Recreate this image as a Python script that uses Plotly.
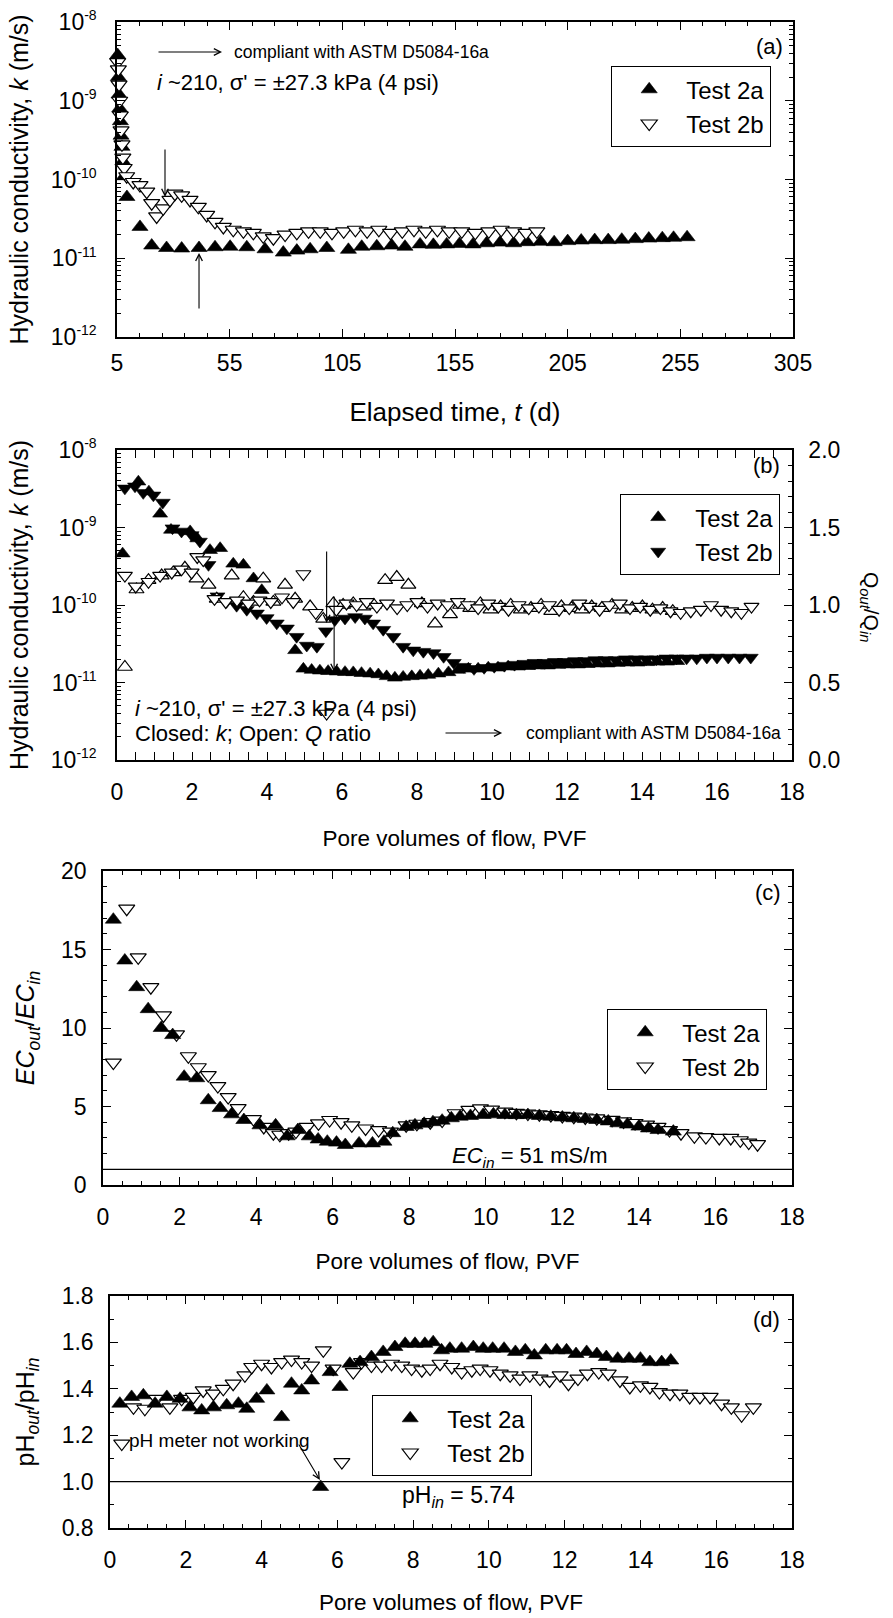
import math
import plotly.graph_objects as go

# ---------------- data ----------------
# (a) hydraulic conductivity vs elapsed time
a_t_2a = [5.3, 5.6, 5.9, 6.2, 6.5, 6.8, 7.2, 7.6, 8.2, 9.4,
          15.2, 20.4, 27.0, 33.7, 41.4, 48.5, 55.2, 62.6, 70.7, 78.8,
          84.8, 90.7, 98.1, 107.7, 113.6, 120.3, 126.9, 132.8, 139.5, 145.4,
          151.3, 157.0, 163.0, 169.0, 175.0, 181.0, 187.0, 193.0, 199.0, 205.0,
          211.0, 217.0, 223.0, 229.0, 235.0, 241.0, 247.0, 252.0, 258.0]
a_k_2a = [3.8e-9, 2.0e-9, 1.2e-9, 8.0e-10, 5.5e-10, 3.6e-10, 2.6e-10, 1.7e-10, 1.1e-10, 6.0e-11,
          2.5e-11, 1.45e-11, 1.35e-11, 1.33e-11, 1.35e-11, 1.38e-11, 1.4e-11, 1.38e-11, 1.3e-11, 1.18e-11,
          1.25e-11, 1.3e-11, 1.35e-11, 1.28e-11, 1.4e-11, 1.42e-11, 1.45e-11, 1.4e-11, 1.5e-11, 1.48e-11,
          1.5e-11, 1.52e-11, 1.5e-11, 1.55e-11, 1.58e-11, 1.55e-11, 1.6e-11, 1.62e-11, 1.6e-11, 1.65e-11,
          1.68e-11, 1.7e-11, 1.7e-11, 1.72e-11, 1.75e-11, 1.78e-11, 1.8e-11, 1.82e-11, 1.85e-11]
a_t_2b = [5.3, 5.6, 5.9, 6.2, 6.5, 6.8, 7.2, 7.6, 8.2, 9.3,
          12.2, 15.2, 18.2, 20.4, 22.6, 25.5, 28.5, 30.7, 33.7, 37.4,
          41.1, 44.8, 48.5, 52.2, 56.6, 61.1, 65.5, 69.9, 74.4, 79.6,
          84.8, 90.0, 95.2, 100.4, 105.6, 110.8, 116.0, 121.2, 126.4, 131.6,
          136.8, 142.0, 147.2, 152.4, 158.0, 164.0, 170.0, 175.5, 181.0, 186.5,
          191.3]
a_k_2b = [3.1e-9, 2.5e-9, 1.6e-9, 1.0e-9, 6.5e-10, 4.2e-10, 2.8e-10, 1.9e-10, 1.4e-10, 1.1e-10,
          9.3e-11, 8.5e-11, 7.0e-11, 5.0e-11, 3.4e-11, 4.3e-11, 5.5e-11, 6.6e-11, 6.3e-11, 5.5e-11,
          4.5e-11, 3.55e-11, 2.9e-11, 2.5e-11, 2.3e-11, 2.2e-11, 2.1e-11, 1.9e-11, 1.8e-11, 2.0e-11,
          2.1e-11, 2.2e-11, 2.2e-11, 2.1e-11, 2.2e-11, 2.3e-11, 2.2e-11, 2.3e-11, 2.1e-11, 2.2e-11,
          2.3e-11, 2.2e-11, 2.3e-11, 2.2e-11, 2.2e-11, 2.1e-11, 2.2e-11, 2.3e-11, 2.2e-11, 2.1e-11,
          2.2e-11]

# (b) k and Q ratio vs pore volumes of flow
b_pvf_k2a = [0.15, 0.57, 0.85, 1.15, 1.44, 1.95, 2.14, 2.48, 2.75, 3.1,
             3.37, 3.64, 3.86, 4.75, 4.97, 5.19, 5.41, 5.63, 5.86, 6.08,
             6.3, 6.52, 6.75, 6.97, 7.19, 7.41, 7.63, 7.86, 8.08, 8.3,
             8.57, 8.84, 9.1, 9.37, 9.63, 9.9, 10.16, 10.43, 10.69, 10.96,
             11.22, 11.49, 11.76, 12.02, 12.29, 12.55, 12.82, 13.08, 13.35, 13.61,
             13.88, 14.14, 14.41, 14.67, 14.94]
b_k2a = [4.6e-10, 3.9e-9, 2.9e-9, 1.5e-9, 9.3e-10, 8.9e-10, 7.2e-10, 5.1e-10, 5.4e-10, 3.4e-10,
         3.3e-10, 2.2e-10, 1.55e-10, 2.6e-11, 1.5e-11, 1.45e-11, 1.42e-11, 1.4e-11, 1.38e-11, 1.36e-11,
         1.35e-11, 1.32e-11, 1.3e-11, 1.27e-11, 1.2e-11, 1.15e-11, 1.18e-11, 1.2e-11, 1.22e-11, 1.25e-11,
         1.3e-11, 1.35e-11, 1.45e-11, 1.5e-11, 1.5e-11, 1.55e-11, 1.55e-11, 1.6e-11, 1.6e-11, 1.62e-11,
         1.65e-11, 1.65e-11, 1.68e-11, 1.7e-11, 1.7e-11, 1.72e-11, 1.75e-11, 1.75e-11, 1.78e-11, 1.8e-11,
         1.8e-11, 1.82e-11, 1.85e-11, 1.85e-11, 1.88e-11]
b_pvf_k2b = [0.21, 0.48, 0.70, 0.97, 1.22, 1.48, 1.72, 1.99, 2.21, 2.44,
             2.68, 2.92, 3.19, 3.46, 3.73, 3.99, 4.26, 4.53, 4.79, 5.06,
             5.33, 5.57, 5.81, 6.08, 6.35, 6.61, 6.83, 7.1, 7.37, 7.63,
             7.9, 8.17, 8.44, 8.71, 8.98, 9.25, 9.52, 9.79, 10.06, 10.33,
             10.6, 10.87, 11.14, 11.41, 11.68, 11.95, 12.22, 12.49, 12.76, 13.03,
             13.3, 13.57, 13.84, 14.11, 14.38, 14.65, 14.92, 15.19, 15.46, 15.73,
             16.0, 16.3, 16.6, 16.9]
b_k2b = [3.2e-9, 3.4e-9, 2.8e-9, 2.6e-9, 2.1e-9, 9.8e-10, 8.9e-10, 8.0e-10, 6.6e-10, 3.3e-10,
         1.3e-10, 1.1e-10, 9.8e-11, 8.7e-11, 7.8e-11, 6.8e-11, 5.8e-11, 5.0e-11, 3.9e-11, 3.0e-11,
         2.9e-11, 4.6e-11, 6.4e-11, 6.7e-11, 7.0e-11, 6.7e-11, 5.8e-11, 4.8e-11, 3.9e-11, 2.9e-11,
         2.6e-11, 2.5e-11, 2.4e-11, 2.15e-11, 1.8e-11, 1.6e-11, 1.5e-11, 1.55e-11, 1.6e-11, 1.65e-11,
         1.7e-11, 1.75e-11, 1.8e-11, 1.8e-11, 1.85e-11, 1.85e-11, 1.9e-11, 1.9e-11, 1.95e-11, 1.95e-11,
         1.95e-11, 2.0e-11, 2.0e-11, 2.0e-11, 2.0e-11, 2.05e-11, 2.05e-11, 2.05e-11, 2.05e-11, 2.1e-11,
         2.1e-11, 2.1e-11, 2.1e-11, 2.1e-11]
b_pvf_q2a = [0.21, 0.52, 0.84, 1.19, 1.5, 1.81, 2.12, 2.44, 2.66, 3.06,
             3.37, 3.64, 3.9, 4.17, 4.48, 4.75, 5.15, 5.5, 5.77, 6.03,
             6.3, 6.57, 6.85, 7.15, 7.46, 7.77, 8.13, 8.48, 8.88, 9.15,
             9.42, 9.69, 9.96, 10.23, 10.5, 10.77, 11.04, 11.31, 11.58, 11.85,
             12.12, 12.39, 12.66, 12.93, 13.2, 13.47, 13.74, 14.01, 14.28, 14.55,
             14.82]
b_q2a = [0.60, 1.10, 1.16, 1.19, 1.21, 1.24, 1.17, 1.13, 1.04, 1.19,
         1.05, 1.02, 1.17, 1.02, 1.13, 1.04, 0.99, 0.91, 1.01, 1.00,
         1.01, 0.99, 1.00, 1.16, 1.18, 1.13, 1.01, 0.88, 0.94, 1.0,
         0.98, 1.01, 0.97, 0.99, 1.0, 0.97, 0.98, 1.0, 0.96, 0.99,
         0.98, 0.97, 0.99, 0.98, 1.0, 0.97, 0.98, 0.99, 0.97, 0.98,
         0.96]
b_pvf_q2b = [0.21, 0.5, 0.84, 1.15, 1.46, 1.72, 1.99, 2.14, 2.3, 2.6,
             2.9, 3.2, 3.5, 3.8, 4.1, 4.4, 4.7, 4.97, 5.3, 5.59,
             5.85, 6.12, 6.39, 6.66, 6.93, 7.2, 7.47, 7.74, 8.01, 8.28,
             8.55, 8.82, 9.09, 9.36, 9.63, 9.9, 10.17, 10.44, 10.71, 10.98,
             11.25, 11.52, 11.79, 12.06, 12.33, 12.6, 12.87, 13.14, 13.41, 13.68,
             13.95, 14.22, 14.49, 14.76, 15.03, 15.3, 15.57, 15.84, 16.11, 16.38,
             16.65, 16.92]
b_q2b = [1.19, 1.12, 1.15, 1.19, 1.21, 1.23, 1.21, 1.31, 1.29, 1.04,
         1.02, 1.03, 1.01, 1.03, 1.02, 1.05, 1.02, 1.20, 0.95, 0.30,
         0.97, 1.01, 1.00, 1.02, 0.99, 1.01, 0.98, 1.00, 1.02, 0.99,
         1.01, 1.00, 1.02, 1.0, 0.98, 1.01, 0.99, 0.97, 1.0, 0.98,
         0.99, 1.0, 0.97, 0.98, 1.01, 0.99, 0.97, 1.0, 1.01, 0.98,
         0.99, 0.97, 0.98, 0.96, 0.95, 0.96, 0.97, 1.0, 0.97, 0.96,
         0.95, 0.99]

# (c) EC ratio vs pore volumes of flow
c_pvf_2a = [0.27, 0.57, 0.88, 1.18, 1.52, 1.82, 2.12, 2.45, 2.75, 3.06,
            3.36, 3.68, 4.1, 4.51, 4.81, 5.09, 5.39, 5.62, 5.86, 6.1,
            6.33, 6.69, 7.04, 7.34, 7.57, 7.92, 8.15, 8.39, 8.62, 8.86,
            9.1, 9.33, 9.6, 9.93, 10.2, 10.5, 10.8, 11.1, 11.4, 11.7,
            12.0, 12.3, 12.6, 12.9, 13.2, 13.45, 13.7, 14.0, 14.25, 14.5,
            14.9]
c_ec_2a = [16.9, 14.3, 12.6, 11.2, 10.0, 9.55, 6.9, 6.8, 5.4, 4.9,
           4.5, 4.14, 3.8, 3.8, 3.1, 3.5, 3.1, 2.9, 2.76, 2.7,
           2.55, 2.65, 2.65, 2.76, 3.3, 3.7, 3.8, 3.9, 4.0, 4.1,
           4.25, 4.35, 4.4, 4.46, 4.5, 4.46, 4.45, 4.46, 4.4, 4.35,
           4.3, 4.25, 4.2, 4.14, 4.05, 3.93, 3.85, 3.72, 3.6, 3.5,
           3.4]
c_pvf_2b = [0.27, 0.62, 0.92, 1.25, 1.58, 1.92, 2.23, 2.49, 2.75, 3.0,
            3.27, 3.53, 3.93, 4.2, 4.45, 4.62, 4.85, 5.04, 5.33, 5.63,
            5.92, 6.22, 6.5, 6.86, 7.2, 7.51, 7.92, 8.2, 8.55, 8.86,
            9.2, 9.56, 9.86, 10.15, 10.5, 10.8, 11.1, 11.4, 11.7, 12.0,
            12.3, 12.6, 12.9, 13.3, 13.6, 13.9, 14.2, 14.5, 14.8, 15.1,
            15.45, 15.75, 16.1, 16.4, 16.65, 16.87, 17.1]
c_ec_2b = [7.8, 17.6, 14.5, 12.6, 10.8, 9.6, 8.2, 7.5, 7.0, 6.3,
           5.6, 4.9, 4.2, 3.7, 3.3, 3.2, 3.3, 3.4, 3.7, 3.93,
           4.14, 4.0, 3.8, 3.6, 3.5, 3.4, 3.8, 3.9, 4.0, 4.1,
           4.57, 4.78, 4.88, 4.8, 4.67, 4.6, 4.55, 4.5, 4.45, 4.4,
           4.35, 4.3, 4.25, 4.15, 4.05, 3.95, 3.85, 3.7, 3.5, 3.3,
           3.1, 3.05, 3.0, 3.0, 2.85, 2.7, 2.6]
ec_in_ratio = 1.0

# (d) pH ratio vs pore volumes of flow
d_pvf_2a = [0.26, 0.57, 0.88, 1.19, 1.5, 1.85, 2.11, 2.42, 2.73, 3.08,
            3.39, 3.61, 3.87, 4.14, 4.53, 4.79, 5.06, 5.32, 5.56, 5.81,
            6.07, 6.33, 6.6, 6.9, 7.21, 7.52, 7.79, 8.05, 8.31, 8.53,
            8.75, 8.97, 9.28, 9.59, 9.85, 10.1, 10.4, 10.7, 10.96, 11.2,
            11.5, 11.8, 12.05, 12.3, 12.58, 12.85, 13.1, 13.4, 13.7, 14.0,
            14.25, 14.56, 14.8]
d_ph_2a = [1.336, 1.365, 1.372, 1.336, 1.365, 1.357, 1.32, 1.307, 1.32, 1.329,
           1.336, 1.314, 1.357, 1.393, 1.278, 1.422, 1.393, 1.436, 0.977, 1.472,
           1.408, 1.508, 1.515, 1.537, 1.559, 1.58, 1.594, 1.594, 1.594, 1.601,
           1.566, 1.573, 1.573, 1.58, 1.573, 1.573, 1.573, 1.559, 1.566, 1.544,
           1.566, 1.566, 1.566, 1.55, 1.559, 1.55, 1.537, 1.53, 1.53, 1.53,
           1.515, 1.515, 1.522]
d_pvf_2b = [0.31, 0.62, 0.92, 1.23, 1.58, 1.89, 2.2, 2.46, 2.73, 2.99,
            3.25, 3.56, 3.74, 4.0, 4.26, 4.53, 4.79, 5.06, 5.32, 5.63,
            5.89, 6.12, 6.42, 6.64, 6.9, 7.17, 7.43, 7.7, 7.96, 8.23,
            8.45, 8.71, 9.02, 9.28, 9.55, 9.77, 10.03, 10.3, 10.56, 10.82,
            11.08, 11.35, 11.6, 11.88, 12.1, 12.35, 12.6, 12.9, 13.15, 13.46,
            13.72, 14.0, 14.25, 14.5, 14.78, 15.04, 15.3, 15.57, 15.84, 16.14,
            16.4, 16.67, 16.98]
d_ph_2b = [1.164, 1.32, 1.314, 1.357, 1.32, 1.357, 1.365, 1.393, 1.379, 1.40,
           1.422, 1.458, 1.494, 1.508, 1.494, 1.515, 1.526, 1.515, 1.5, 1.566,
           1.487, 1.084, 1.472, 1.515, 1.5, 1.5, 1.508, 1.5, 1.487, 1.48,
           1.487, 1.508, 1.494, 1.472, 1.48, 1.487, 1.48, 1.465, 1.458, 1.444,
           1.458, 1.444, 1.436, 1.458, 1.422, 1.444, 1.465, 1.472, 1.465, 1.436,
           1.408, 1.415, 1.408, 1.386, 1.379, 1.379, 1.365, 1.365, 1.365, 1.336,
           1.32, 1.286, 1.32]
ph_in_ratio = 1.0

# tick labels
k_tick_vals = [1e-12, 1e-11, 1e-10, 1e-9, 1e-8]
k_tick_exp = ["-12", "-11", "-10", "-9", "-8"]
k_tick_text = ["10<sup><span style='font-size:14px'>%s</span></sup>" % e for e in k_tick_exp]
t_tick_vals = [5, 55, 105, 155, 205, 255, 305]

# ---------------- layout helpers ----------------
W, H = 893, 1618
FONT = "Liberation Sans, Arial, sans-serif"
TICK = 23


def dom_x(l, r):
    return [l / W, r / W]


def dom_y(t, b):
    return [1 - b / H, 1 - t / H]


BOX = {"a": (117, 793, 22, 337), "b": (117, 792, 450, 760),
       "c": (103, 792, 871, 1185), "d": (110, 792, 1296, 1528)}

MINOR = dict(ticks="inside", ticklen=4, tickwidth=1, tickcolor="black", showgrid=False)


def axis(**kw):
    d = dict(showline=True, linecolor="black", linewidth=1.5, ticks="inside", ticklen=8,
             tickwidth=1.2, tickcolor="black", showgrid=False, zeroline=False, automargin=False,
             mirror="allticks", tickfont=dict(size=TICK, color="black", family=FONT))
    d.update(kw)
    return d


def ttl(text, standoff, size=25):
    return dict(text=text, font=dict(size=size, family=FONT, color="black"), standoff=standoff)


log_minor = [m * 10.0 ** e for e in range(-12, -8) for m in range(2, 10)]


def tri(x, y, name, filled, up, xa, ya, legend, size=14, showlegend=True, rank=1):
    return go.Scatter(
        x=x, y=y, mode="markers", name=name, xaxis=xa, yaxis=ya, legend=legend,
        showlegend=showlegend, legendrank=rank, hoverinfo="skip", cliponaxis=False,
        marker=dict(symbol="triangle-up" if up else "triangle-down", size=size,
                    color="black" if filled else "white",
                    line=dict(color="black", width=0.6 if filled else 1.2)))


fig = go.Figure()
# (a)
fig.add_trace(tri(a_t_2a, a_k_2a, "Test 2a", True, True, "x", "y", "legend", rank=1))
fig.add_trace(tri(a_t_2b, a_k_2b, "Test 2b", False, False, "x", "y", "legend", rank=2))
# (b)
fig.add_trace(tri(b_pvf_k2a, b_k2a, "Test 2a", True, True, "x2", "y2", "legend2", size=13, rank=1))
fig.add_trace(tri(b_pvf_k2b, b_k2b, "Test 2b", True, False, "x2", "y2", "legend2", size=13, rank=2))
fig.add_trace(tri(b_pvf_q2a, b_q2a, "Test 2a Q ratio", False, True, "x2", "y3", "legend2", size=13, showlegend=False))
fig.add_trace(tri(b_pvf_q2b, b_q2b, "Test 2b Q ratio", False, False, "x2", "y3", "legend2", size=13, showlegend=False))
# (c)
fig.add_trace(tri(c_pvf_2b, c_ec_2b, "Test 2b", False, False, "x3", "y4", "legend3", rank=2))
fig.add_trace(tri(c_pvf_2a, c_ec_2a, "Test 2a", True, True, "x3", "y4", "legend3", rank=1))
# (d)
fig.add_trace(tri(d_pvf_2b, d_ph_2b, "Test 2b", False, False, "x4", "y5", "legend4", rank=2))
fig.add_trace(tri(d_pvf_2a, d_ph_2a, "Test 2a", True, True, "x4", "y5", "legend4", rank=1))

k_title = "Hydraulic conductivity, <i>k</i> (m/s)"
pvf_title = "Pore volumes of flow, PVF"
PVF_SIZE = 22.5

a, b, c, d = BOX["a"], BOX["b"], BOX["c"], BOX["d"]
fig.update_layout(
    width=W, height=H, margin=dict(l=0, r=0, t=0, b=0, autoexpand=False),
    paper_bgcolor="white", plot_bgcolor="white",
    font=dict(family=FONT, color="black"),
    xaxis=axis(domain=dom_x(a[0], a[1]), anchor="y", range=[5, 305], tickmode="array",
               tickvals=t_tick_vals, ticklabelstandoff=5,
               minor=dict(MINOR, tickmode="array", tickvals=[v for v in range(15, 305, 10) if (v - 5) % 50]),
               title=ttl("Elapsed time, <i>t</i> (d)", 27, size=26)),
    yaxis=axis(domain=dom_y(a[2], a[3]), anchor="x", type="log", range=[-12, -8], tickmode="array",
               tickvals=k_tick_vals, ticktext=k_tick_text, ticklabelstandoff=14,
               minor=dict(MINOR, tickmode="array", tickvals=log_minor), title=ttl(k_title, 15)),
    xaxis2=axis(domain=dom_x(b[0], b[1]), anchor="y2", range=[0, 18], dtick=2, tick0=0, ticklabelstandoff=11,
                minor=dict(MINOR, dtick=0.5, tick0=0), title=ttl(pvf_title, 26, size=PVF_SIZE)),
    yaxis2=axis(domain=dom_y(b[2], b[3]), anchor="x2", type="log", range=[-12, -8], tickmode="array",
                tickvals=k_tick_vals, ticktext=k_tick_text, mirror=False, ticklabelstandoff=14,
                minor=dict(MINOR, tickmode="array", tickvals=log_minor), title=ttl(k_title, 15)),
    yaxis3=axis(overlaying="y2", side="right", anchor="x2", range=[0, 2], dtick=0.5, tick0=0,
                tickformat=".1f", mirror=False, ticklabelstandoff=10,
                minor=dict(MINOR, dtick=0.1, tick0=0)),
    xaxis3=axis(domain=dom_x(c[0], c[1]), anchor="y4", range=[0, 18], dtick=2, tick0=0, ticklabelstandoff=11,
                minor=dict(MINOR, dtick=0.5, tick0=0), title=ttl(pvf_title, 24, size=PVF_SIZE)),
    yaxis4=axis(domain=dom_y(c[2], c[3]), anchor="x3", range=[0, 20], dtick=5, tick0=0, ticklabelstandoff=10,
                minor=dict(MINOR, dtick=1, tick0=0),
                title=ttl("<i>EC<sub>out</sub></i>/<i>EC<sub>in</sub></i>", 19)),
    xaxis4=axis(domain=dom_x(d[0], d[1]), anchor="y5", range=[0, 18], dtick=2, tick0=0, ticklabelstandoff=11,
                minor=dict(MINOR, dtick=0.5, tick0=0), title=ttl(pvf_title, 22, size=PVF_SIZE)),
    yaxis5=axis(domain=dom_y(d[2], d[3]), anchor="x4", range=[0.8, 1.8], dtick=0.2, tick0=0.8,
                tickformat=".1f", ticklabelstandoff=10, minor=dict(MINOR, dtick=0.1, tick0=0.8),
                title=ttl("pH<sub><i>out</i></sub>/pH<sub><i>in</i></sub>", 20)),
)

LEG = dict(xanchor="left", yanchor="top", bordercolor="black", borderwidth=1.2, bgcolor="white",
           font=dict(size=24, family=FONT, color="black"), itemwidth=64, tracegroupgap=0)
fig.update_layout(
    legend=dict(LEG, x=611 / W, y=1 - 66 / H),
    legend2=dict(LEG, x=620 / W, y=1 - 494 / H),
    legend3=dict(LEG, x=607 / W, y=1 - 1009 / H),
    legend4=dict(LEG, x=372 / W, y=1 - 1395 / H),
)

# reference lines at inflow value (ratio = 1)
fig.add_shape(type="line", xref="x3", yref="y4", x0=0, x1=18, y0=ec_in_ratio, y1=ec_in_ratio,
              line=dict(color="black", width=1.3))
fig.add_shape(type="line", xref="x4", yref="y5", x0=0, x1=18, y0=ph_in_ratio, y1=ph_in_ratio,
              line=dict(color="black", width=1.3))


def txt(x, y, text, xref, yref, size=22, xanchor="left"):
    fig.add_annotation(x=x, y=y, xref=xref, yref=yref, text=text, showarrow=False,
                       xanchor=xanchor, yanchor="middle", font=dict(size=size, family=FONT, color="black"))


def arrow(x, y, ax, ay, xref, yref):
    fig.add_annotation(x=x, y=y, ax=ax, ay=ay, xref=xref, yref=yref, axref=xref, ayref=yref,
                       text="", showarrow=True, arrowhead=5, arrowsize=1.2, arrowwidth=1.1,
                       arrowcolor="black", standoff=0, startstandoff=0)


L = math.log10
# (a)
arrow(51.6, -8.381, 22.75, -8.381, "x", "y")
txt(56.0, -8.381, "compliant with ASTM D5084-16a", "x", "y", size=17.5)
txt(21.9, -8.762, "<i>i</i> ~210, σ' = ±27.3 kPa (4 psi)", "x", "y")
txt(301.5, -8.305, "(a)", "x", "y", xanchor="right")
arrow(26.3, L(6.0e-11), 26.3, -9.6, "x", "y")
arrow(41.4, L(1.17e-11), 41.4, -11.657, "x", "y")
# (b)
txt(17.73, 1.903, "(b)", "x2", "y3", xanchor="right")
txt(0.43, 0.335, "<i>i</i> ~210, σ' = ±27.3 kPa (4 psi)", "x2", "y3")
txt(0.43, 0.174, "Closed: <i>k</i>; Open: <i>Q</i> ratio", "x2", "y3")
arrow(10.27, 0.174, 8.72, 0.174, "x2", "y3")
txt(17.76, 0.174, "compliant with ASTM D5084-16a", "x2", "y3", size=17.5, xanchor="right")
arrow(5.59, 0.884, 5.59, 1.355, "x2", "y3")
arrow(5.79, 0.568, 5.79, 1.065, "x2", "y3")
fig.add_annotation(x=870 / W, y=1 - 607 / H, xref="paper", yref="paper", showarrow=False,
                   xanchor="center", yanchor="middle",
                   text="Q<sub><i>out</i></sub>/Q<sub><i>in</i></sub>", textangle=90,
                   font=dict(size=21, family=FONT, color="black"))
# (c)
txt(17.76, 18.6, "(c)", "x3", "y4", xanchor="right")
txt(11.15, 1.8, "<i>EC<sub>in</sub></i> = 51 mS/m", "x3", "y4", xanchor="center")
# (d)
txt(17.74, 1.697, "(d)", "x4", "y5", xanchor="right")
txt(7.65, 0.934, "pH<sub><i>in</i></sub> = 5.74", "x4", "y5", size=23)
txt(0.45, 1.179, "pH meter not working", "x4", "y5", size=19)
arrow(5.54, 1.007, 4.96, 1.166, "x4", "y5")

fig.write_html("out.html")
